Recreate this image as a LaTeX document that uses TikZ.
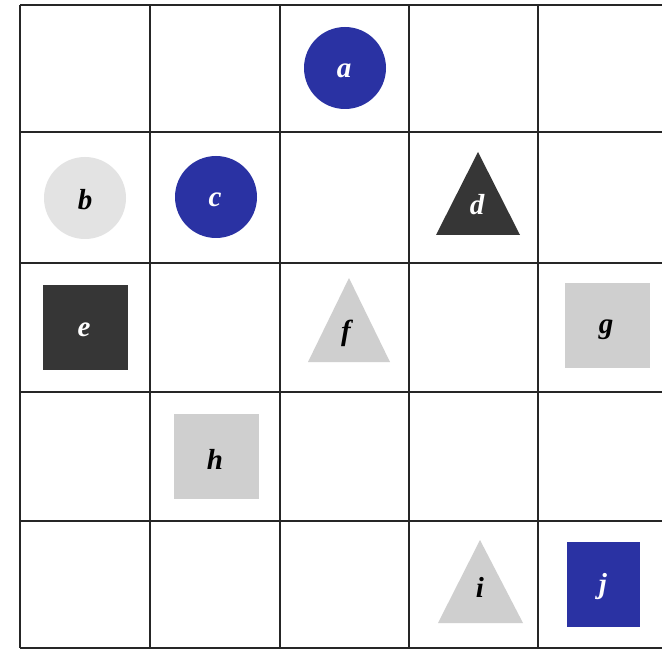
\documentclass[tikz,border=0pt]{standalone}
\usepackage{fontspec}
\setmainfont{Liberation Serif}
\begin{document}
\begin{tikzpicture}[x=1pt,y=-1pt,
  gridline/.style={draw=black!85,line width=1.4pt},
  lbl/.style={font=\fontsize{29}{29}\selectfont\bfseries\itshape,inner sep=0pt},
  lift/.style={label={[lbl,text=#1,yshift=-3pt]center:}},
  bluecirc/.style={circle,fill=blueshape,minimum size=82pt,inner sep=0pt},
  graycirc/.style={circle,fill=lightb,minimum size=82pt,inner sep=0pt},
  darksq/.style={rectangle,fill=darkshape,minimum width=85pt,minimum height=85pt,inner sep=0pt},
  graysq/.style={rectangle,fill=lightshape,minimum width=85pt,minimum height=85pt,inner sep=0pt},
  bluesq/.style={rectangle,fill=blueshape,minimum width=73pt,minimum height=85pt,inner sep=0pt}
]
\definecolor{blueshape}{HTML}{2A32A3}
\definecolor{darkshape}{HTML}{363636}
\definecolor{lightshape}{HTML}{CFCFCF}
\definecolor{lightb}{HTML}{E3E3E3}
\useasboundingbox (0,0) rectangle (662,650);
\fill[white] (0,0) rectangle (662,650);
% grid
\foreach \yy in {5,132,263,392,521,648}
  \draw[gridline] (20,\yy) -- (662,\yy);
\foreach \xx in {20,150,280,409,538}
  \draw[gridline] (\xx,5) -- (\xx,648);
% circles
\node[bluecirc] (a) at (345,68) {};
\node[graycirc] (b) at (85,198) {};
\node[bluecirc] (c) at (216,197) {};
% squares
\node[darksq] (e) at (85,327) {};
\node[graysq] (g) at (607,325) {};
\node[graysq] (h) at (216,456) {};
\node[bluesq] (j) at (603,584) {};
% triangles
\fill[darkshape] (436,235) -- (478,152) -- (520,235) -- cycle;
\fill[lightshape] (308,362) -- (349,278) -- (390,362) -- cycle;
\fill[lightshape] (438,623) -- (480,540) -- (523,623) -- cycle;
% labels
\node[lbl,text=white] (la) at (344,71) {a};
\node[lbl,text=black] (lb) at (85,200) {b};
\node[lbl,text=white] (lc) at (215,200) {c};
\node[lbl,text=white] (ld) at (477,205) {d};
\node[lbl,text=white] (le) at (84,330) {e};
\node[lbl,text=black] (lf) at (346,333) {f};
\node[lbl,text=black] (lg) at (606,330) {g};
\node[lbl,text=black] (lh) at (215,459) {h};
\node[lbl,text=black] (li) at (480,587) {i};
\node[lbl,text=white] (lj) at (603,587) {j};
\end{tikzpicture}
\end{document}
